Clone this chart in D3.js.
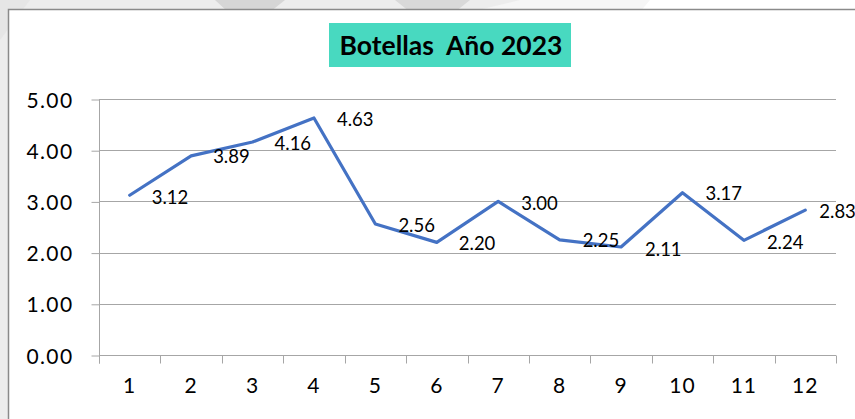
<!DOCTYPE html>
<html>
<head>
<meta charset="utf-8">
<script src="https://cdn.jsdelivr.net/npm/d3@7"></script>
<style>
  html, body { margin: 0; padding: 0; background: #ffffff; }
  svg { display: block; }
</style>
</head>
<body>
<svg id="chart" width="855" height="419"></svg>
<script>
// ---- data ----
const title = "Botellas  Año 2023";
const months = ["1","2","3","4","5","6","7","8","9","10","11","12"];
const values = [3.12, 3.89, 4.16, 4.63, 2.56, 2.20, 3.00, 2.25, 2.11, 3.17, 2.24, 2.83];
const yTicks = [0, 1, 2, 3, 4, 5];

// ---- layout ----
const W = 855, H = 419;
const plot = { left: 99, right: 836, top: 99, bottom: 355 };
const labelNudge = [[22,2],[22,1],[22,1],[23,1],[23,1],[22,1],[23,2],[23,1],[24,2],[23,1],[23,2],[14,1]];

const svg = d3.select("#chart");

// slide background
svg.append("rect").attr("x",0).attr("y",0).attr("width",W).attr("height",H).attr("fill","#ededed");
svg.append("polygon").attr("points","520,0 855,0 855,12 470,12").attr("fill","#f6f6f6");
svg.append("polygon").attr("points","650,0 855,0 855,12 640,12").attr("fill","#ffffff");
svg.append("polygon").attr("points","215,0 285,0 270,12 228,12").attr("fill","#d6d6d6");
svg.append("polygon").attr("points","395,0 470,0 455,12 410,12").attr("fill","#d9d9d9");
svg.append("polygon").attr("points","0,0 30,0 0,40").attr("fill","#e6e6e6");

// chart frame
svg.append("rect").attr("x",8.5).attr("y",9.5).attr("width",870).attr("height",430)
  .attr("fill","#ffffff").attr("stroke","#8a8a8a").attr("stroke-width",1.5);

// title box
const tb = svg.append("g");
tb.append("rect").attr("x",329).attr("y",23).attr("width",242).attr("height",44).attr("fill","#48d9c0");
tb.append("text").attr("x",451).attr("y",55).attr("text-anchor","middle")
  .attr("font-family","Lato, 'Open Sans', sans-serif").attr("font-weight","bold")
  .attr("font-size",26.5).attr("fill","#000").style("white-space","pre").attr("xml:space","preserve")
  .text(title);

// scales
const x = d3.scaleBand().domain(months).range([plot.left, plot.right]).paddingInner(0).paddingOuter(0);
const y = d3.scaleLinear().domain([0,5]).range([plot.bottom, plot.top]);

// gridlines
svg.append("g").selectAll("line").data(yTicks.filter(d => d > 0)).join("line")
  .attr("x1", plot.left).attr("x2", plot.right)
  .attr("y1", d => Math.round(y(d)) + 0.5).attr("y2", d => Math.round(y(d)) + 0.5)
  .attr("stroke","#a6a6a6").attr("stroke-width",1);

// y axis
const yAxis = d3.axisLeft(y).tickValues(yTicks).tickFormat(d3.format(".2f")).tickSize(8).tickPadding(18);
const gy = svg.append("g").attr("transform",`translate(${plot.left + 0.5},0.5)`).call(yAxis);
gy.select(".domain").attr("stroke","#a6a6a6").attr("d", `M0,${plot.top}V${plot.bottom + 8}`);
gy.selectAll(".tick line").attr("stroke","#a6a6a6");
gy.selectAll(".tick text").attr("font-family","Lato, 'Open Sans', sans-serif").attr("font-size",21)
  .attr("fill","#000").attr("letter-spacing","1.4px").attr("dy","0.36em");

// x axis
const xAxis = d3.axisBottom(x).tickSize(0).tickPadding(23);
const gx = svg.append("g").attr("transform",`translate(0,${plot.bottom + 0.5})`).call(xAxis);
gx.select(".domain").attr("stroke","#a6a6a6").attr("d", `M${plot.left},0H${plot.right}`);
gx.selectAll(".tick text").attr("font-family","Lato, 'Open Sans', sans-serif").attr("font-size",21)
  .attr("fill","#000").attr("letter-spacing","1px");
// boundary ticks between categories
const bounds = months.map(m => x(m)).concat([x(months[months.length-1]) + x.bandwidth()]);
gx.append("g").selectAll("line").data(bounds).join("line")
  .attr("x1", d => Math.round(d) + 0.5).attr("x2", d => Math.round(d) + 0.5)
  .attr("y1", 0).attr("y2", 8).attr("stroke","#a6a6a6");

// line
const cx = (d, i) => x(months[i]) + x.bandwidth() / 2;
const line = d3.line().x((d,i) => cx(d,i)).y(d => y(d));
svg.append("path").datum(values).attr("d", line)
  .attr("fill","none").attr("stroke","#4472c4").attr("stroke-width",3.2)
  .attr("stroke-linejoin","round").attr("stroke-linecap","round");

// data labels
svg.append("g").selectAll("text").data(values).join("text")
  .attr("x", (d,i) => cx(d,i) + labelNudge[i][0])
  .attr("y", (d,i) => y(d) + labelNudge[i][1])
  .attr("dy","0.36em")
  .attr("font-family","Lato, 'Open Sans', sans-serif").attr("font-size",18.5)
  .attr("fill","#000")
  .text(d => d3.format(".2f")(d));
</script>
</body>
</html>
